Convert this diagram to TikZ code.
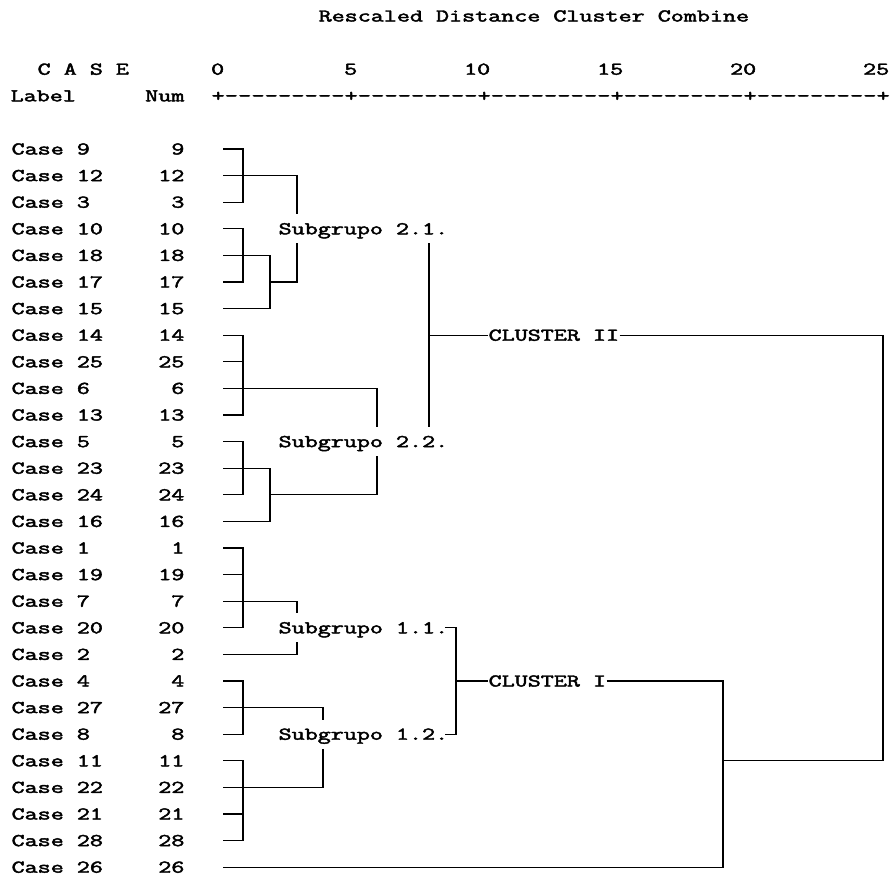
\documentclass[tikz,border=0pt]{standalone}
\usepackage{fontspec}
\newfontfamily\dmono{Latin Modern Mono}[FakeBold=2.2]
\newcommand{\dtxt}[1]{\scalebox{1.407}[1]{#1}}
\begin{document}
\begin{tikzpicture}[x=1pt,y=-1pt,line width=1.25pt,
  txt/.style={inner sep=0pt,font=\dmono\fontsize{18}{20}\selectfont},
  sub/.style={txt,anchor=base west,text height=19.5pt,text depth=8.5pt}]
\useasboundingbox[fill=white] (0,0) rectangle (896,879);
% header
\node[txt,anchor=base west] (title) at (318,21.5) {\dtxt{Rescaled Distance Cluster Combine}};
\node[txt,anchor=base west] (casehd) at (37,74.7) {\dtxt{C A S E}};
\node[txt,anchor=base west] (labelhd) at (10,101.3) {\dtxt{Label}};
\node[txt,anchor=base east] (numhd) at (185,101.3) {\dtxt{Num}};
\foreach \d/\c in {0/16,5/26,10/36,15/46,20/56,25/66}
  \node[txt,anchor=base east] (d\d) at ({12+13.3*\c},74.7) {\dtxt{\d}};
\foreach \c in {15,...,65}{
  \pgfmathtruncatemacro\m{mod(\c-15,10)}
  \ifnum\m=0
    \node[txt,anchor=base] (ax\c) at ({12+13.3*(\c+0.5)},101.3) {\dtxt{+}};
  \else
    \node[txt,anchor=base] (ax\c) at ({12+13.3*(\c+0.5)},101.3) {\dtxt{-}};
  \fi}
% cases
\foreach \n/\k in {9/0,12/1,3/2,10/3,18/4,17/5,15/6,14/7,25/8,6/9,13/10,5/11,23/12,24/13,16/14,1/15,19/16,7/17,20/18,2/19,4/20,27/21,8/22,11/23,22/24,21/25,28/26,26/27}{
  \pgfmathsetmacro\yy{149+26.6*\k}
  \node[txt,anchor=base west] (lab\n) at (11,\yy+5.5) {\dtxt{Case \n}};
  \node[txt,anchor=base east] (num\n) at (185,\yy+5.5) {\dtxt{\n}};
  \coordinate (p\n) at (223,\yy);
}
% group labels
\node[sub] (s21) at (278,234.3) {\dtxt{Subgrupo 2.1.}};
\node[sub] (s22) at (278,447.1) {\dtxt{Subgrupo 2.2.}};
\node[sub] (s11) at (278,633.3) {\dtxt{Subgrupo 1.1.}};
\node[sub] (s12) at (278,739.7) {\dtxt{Subgrupo 1.2.}};
\node[txt,anchor=base west] (c2) at (488,340.7) {\dtxt{CLUSTER II}};
\node[txt,anchor=base west] (c1) at (488,686.5) {\dtxt{CLUSTER I}};
% first-level merges
\foreach \a/\b in {9/3,10/17,14/13,5/24,1/20,4/8,11/28}
  \draw (p\a) -| (243,0 |- p\b) -- (p\b);
\foreach \n in {25,19,21}
  \draw (p\n) -- (243,0 |- p\n);
% subgroup 2.1
\draw (p12) -| (297,0 |- s21.north);
\draw (297,0 |- s21.south) -- (297,0 |- p17) -- (270,0 |- p17);
\draw (p18) -| (270,0 |- p15) -- (p15);
% subgroup 2.2
\draw (p6) -| (377,0 |- s22.north);
\draw (377,0 |- s22.south) |- (270,0 |- p24);
\draw (p23) -| (270,0 |- p16) -- (p16);
% cluster II
\draw (429,0 |- s21.south) -- (429,0 |- s22.north);
\draw (429,0 |- p14) -- (c2.west |- p14);
\draw (c2.east |- p14) -| (883,0 |- p11) -- (723,0 |- p11);
% subgroup 1.1 and 1.2
\draw (p7) -| (297,0 |- s11.north);
\draw (297,0 |- s11.south) |- (p2);
\draw (p27) -| (323,0 |- s12.north);
\draw (323,0 |- s12.south) |- (p22);
\draw ([xshift=-4pt]s11.east |- p20) -| (456,0 |- p8) -- ([xshift=-4pt]s12.east |- p8);
% cluster I
\draw (456,0 |- p4) -- (c1.west |- p4);
\draw (c1.east |- p4) -| (723,0 |- p26) -- (p26);
\end{tikzpicture}
\end{document}
